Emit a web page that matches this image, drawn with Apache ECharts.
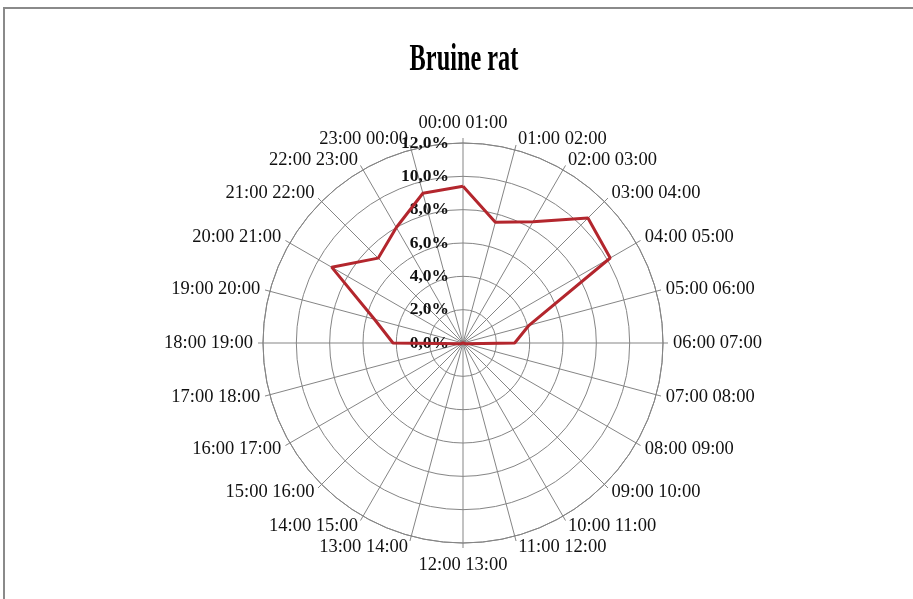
<!DOCTYPE html>
<html>
<head>
<meta charset="utf-8">
<script src="https://cdn.jsdelivr.net/npm/echarts@6/dist/echarts.min.js"></script>
<style>
  html, body { margin: 0; padding: 0; background: #fff; }
  #chart { width: 913px; height: 599px; }
</style>
</head>
<body>
<div id="chart"></div>
<script>
// hour slots around the clock, starting at the top
const slots = [
  '00:00 01:00', '01:00 02:00', '02:00 03:00', '03:00 04:00',
  '04:00 05:00', '05:00 06:00', '06:00 07:00', '07:00 08:00',
  '08:00 09:00', '09:00 10:00', '10:00 11:00', '11:00 12:00',
  '12:00 13:00', '13:00 14:00', '14:00 15:00', '15:00 16:00',
  '16:00 17:00', '17:00 18:00', '18:00 19:00', '19:00 20:00',
  '20:00 21:00', '21:00 22:00', '22:00 23:00', '23:00 00:00'
];

// share of activity per slot, in percent
const activity = [
  9.4, 7.5, 8.4, 10.6, 10.2, 4.1, 3.1, 0.2,
  0.1, 0.1, 0.0, 0.0, 0.0, 0.0, 0.0, 0.1,
  0.1, 0.2, 4.2, 5.5, 9.1, 7.2, 8.0, 9.3
];

const radiusMax = 12;
const radiusStep = 2;

const serif = '"Liberation Serif", "DejaVu Serif", serif';
const gridColor = '#858585';
const labelFont = { fontFamily: serif, fontSize: 18.5, color: '#111', lineHeight: 2 };

// labels near the vertical are nudged to sit beside the spoke, like Excel does
const labelShift = { 0: 'up', 1: 'right', 11: 'right', 12: 'down', 13: 'left', 23: 'left' };

// angle runs 0..24 so the full circle is open for the line; 24 closes the loop
const lineData = activity.map((v, i) => [v, i]);
lineData.push([activity[0], slots.length]);

const chart = echarts.init(document.getElementById('chart'));

const options = {
  animation: false,
  backgroundColor: '#fff',
  graphic: [
    {
      type: 'rect',
      shape: { x: 4, y: 8, width: 1000, height: 1000 },
      style: { fill: 'none', stroke: '#8a8a8a', lineWidth: 2 },
      silent: true
    },
    {
      type: 'text',
      x: 464,
      y: 60,
      scaleX: 0.64,
      style: {
        text: 'Bruine rat',
        font: 'bold 38px ' + serif,
        fill: '#000',
        textAlign: 'center',
        textVerticalAlign: 'middle'
      }
    }
  ],
  polar: {
    center: [463, 343],
    radius: 200
  },
  angleAxis: {
    type: 'value',
    min: 0,
    max: slots.length,
    interval: 1,
    startAngle: 90,
    clockwise: true,
    axisLine: { lineStyle: { color: gridColor, width: 1 } },
    axisTick: { show: true, length: 5, lineStyle: { color: gridColor } },
    axisLabel: {
      ...labelFont,
      margin: 10,
      formatter: (v) => {
        const name = slots[v % slots.length];
        const k = labelShift[v];
        return k ? '{' + k + '|' + name + '}' : name;
      },
      rich: {
        up: { ...labelFont, padding: [0, 0, 18, 0] },
        down: { ...labelFont, padding: [22, 0, 0, 0] },
        right: { ...labelFont, padding: [0, 0, 0, 90] },
        left: { ...labelFont, padding: [0, 90, 0, 0] }
      }
    },
    splitLine: { show: true, lineStyle: { color: gridColor, width: 1 } }
  },
  radiusAxis: {
    type: 'value',
    min: 0,
    max: radiusMax,
    interval: radiusStep,
    axisLine: { show: false },
    axisTick: { show: false },
    axisLabel: {
      fontFamily: serif,
      fontSize: 17.5,
      fontWeight: 'bold',
      color: '#111',
      margin: 14,
      formatter: (v) => v.toFixed(1).replace('.', ',') + '%'
    },
    splitLine: { show: true, lineStyle: { color: gridColor, width: 1 } }
  },
  series: [
    {
      name: 'Bruine rat',
      type: 'line',
      coordinateSystem: 'polar',
      data: lineData,
      symbol: 'none',
      lineStyle: { color: '#b3262d', width: 3 },
      z: 5
    }
  ]
};

chart.setOption(options);
</script>
</body>
</html>
